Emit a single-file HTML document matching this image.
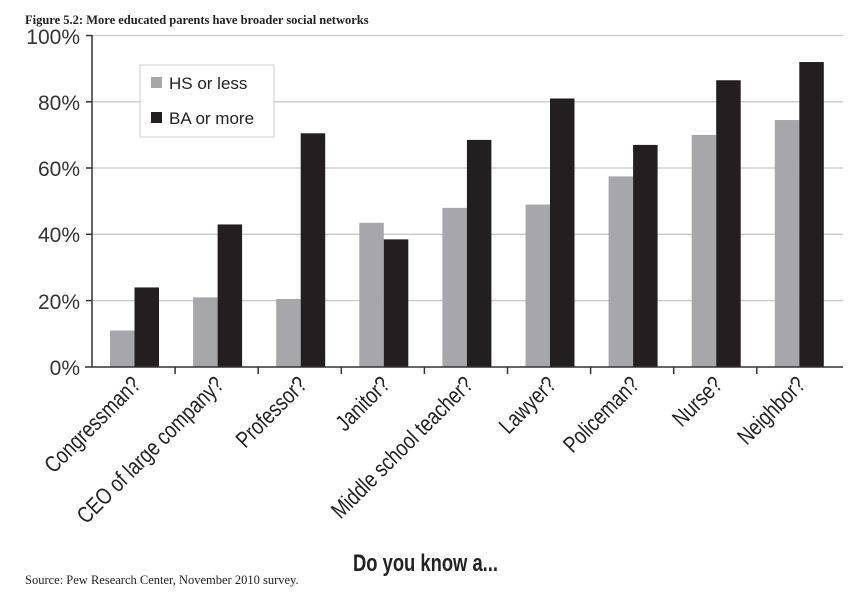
<!DOCTYPE html>
<html><head><meta charset="utf-8"><style>body{margin:0;background:#fff}</style></head><body>
<svg width="863" height="603" xmlns="http://www.w3.org/2000/svg" font-family="Liberation Sans, sans-serif">
<text x="25" y="24" font-family="Liberation Serif, serif" font-weight="bold" font-size="12.5" fill="#222">Figure 5.2: More educated parents have broader social networks</text>
<g stroke="#c8c8c8" stroke-width="1.3">
<line x1="92" x2="843" y1="35.5" y2="35.5"/><line x1="92" x2="843" y1="101.8" y2="101.8"/><line x1="92" x2="843" y1="168" y2="168"/><line x1="92" x2="843" y1="234.3" y2="234.3"/><line x1="92" x2="843" y1="300.6" y2="300.6"/>
</g>
<g font-size="21" fill="#333" text-anchor="end">
<text x="80" y="44">100%</text><text x="80" y="110">80%</text><text x="80" y="176">60%</text><text x="80" y="242">40%</text><text x="80" y="309">20%</text><text x="80" y="375">0%</text>
</g>
<g id="bars"></g>
<rect x="140" y="65" width="134" height="72" fill="#fff" stroke="#ccc"/>
<rect x="151" y="77" width="11" height="11" fill="#a7a6aa"/><text x="169" y="89" font-size="17" fill="#222">HS or less</text>
<rect x="151" y="112" width="11" height="11" fill="#231f20"/><text x="169" y="124" font-size="17" fill="#222">BA or more</text>
<g stroke="#333" stroke-width="1.5"><line x1="92" y1="35" x2="92" y2="367"/><line x1="85" y1="367" x2="843" y2="367"/>
<line x1="86" x2="92" y1="35.5" y2="35.5"/><line x1="86" x2="92" y1="101.8" y2="101.8"/><line x1="86" x2="92" y1="168" y2="168"/><line x1="86" x2="92" y1="234.3" y2="234.3"/><line x1="86" x2="92" y1="300.6" y2="300.6"/></g>
<g id="ticks" stroke="#333" stroke-width="1.5"></g>
<g id="labels" font-size="23" fill="#222" text-anchor="end"></g>
<text x="353" y="571" font-size="24" font-weight="bold" fill="#222" textLength="145" lengthAdjust="spacingAndGlyphs">Do you know a...</text>
<text x="25" y="584" font-family="Liberation Serif, serif" font-size="12.5" fill="#222">Source: Pew Research Center, November 2010 survey.</text>
<script>
var d=[["Congressman?",11,24],["CEO of large company?",21,43],["Professor?",20.5,70.5],["Janitor?",43.5,38.5],["Middle school teacher?",48,68.5],["Lawyer?",49,81],["Policeman?",57.5,67],["Nurse?",70,86.5],["Neighbor?",74.5,92]];
var ns="http://www.w3.org/2000/svg",b=document.getElementById("bars"),t=document.getElementById("ticks"),l=document.getElementById("labels");
function el(p,n,a){var e=document.createElementNS(ns,n);for(var k in a)e.setAttribute(k,a[k]);p.appendChild(e);return e;}
d.forEach(function(r,i){var x=92+i*83.1;var h1=r[1]*3.315,h2=r[2]*3.315;
el(b,"rect",{x:x+18,y:367-h1,width:24.5,height:h1,fill:"#a7a6aa"});
el(b,"rect",{x:x+42.5,y:367-h2,width:24.5,height:h2,fill:"#231f20"});
if(i<8)el(t,"line",{x1:x+83.1,x2:x+83.1,y1:367,y2:374});
var tx=el(l,"text",{x:x+50,y:386,transform:"rotate(-45 "+(x+50)+" 386)"});tx.textContent=r[0];
var w=tx.getComputedTextLength();tx.setAttribute("textLength",(w*0.80).toFixed(1));tx.setAttribute("lengthAdjust","spacingAndGlyphs");});
</script>
</svg>
</body></html>
